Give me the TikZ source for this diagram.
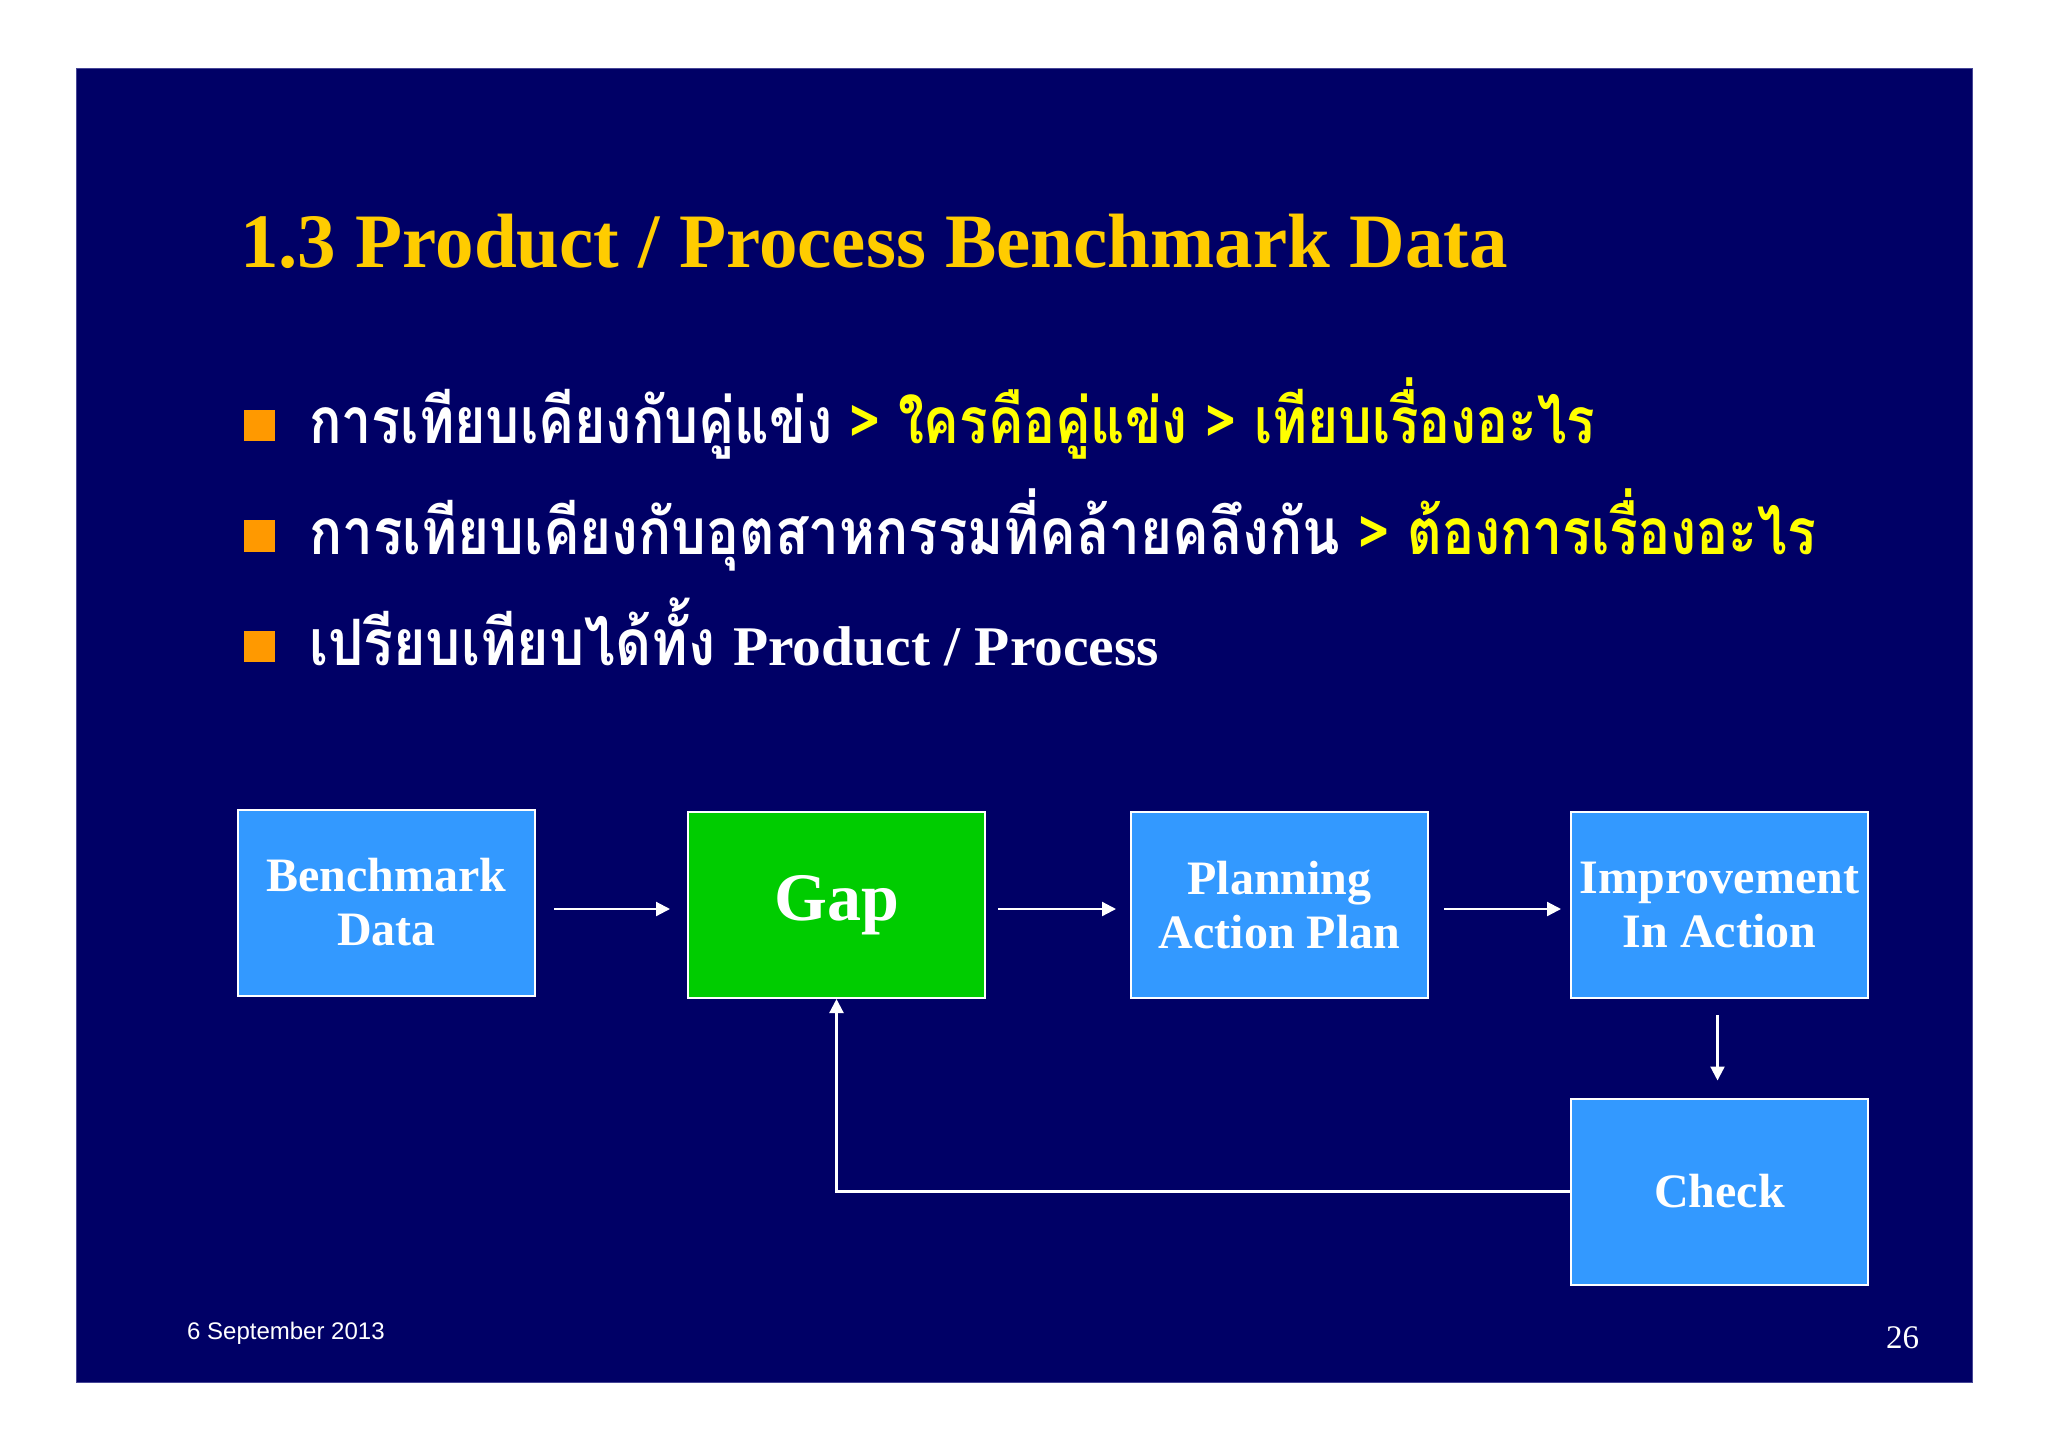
\documentclass[tikz,border=0pt]{standalone}
\usepackage{fontspec}
\usepackage{graphicx}
\setmainfont{Liberation Serif}
\newfontfamily\thaifont[Script=Thai]{Loma}
\newfontfamily\datefont{Liberation Sans}
\usetikzlibrary{arrows.meta}
\definecolor{slidebg}{RGB}{0,0,102}
\definecolor{slideedge}{RGB}{70,70,150}
\definecolor{boxblue}{RGB}{51,153,255}
\definecolor{boxgreen}{RGB}{0,204,0}
\definecolor{titlegold}{RGB}{255,204,0}
\definecolor{hiyellow}{RGB}{255,255,0}
\definecolor{bulletorange}{RGB}{255,153,0}
\newcommand\fitto[2]{\resizebox{#1}{\height}{#2}}
\tikzset{
  flowbox/.style={draw=white, line width=2pt, fill=boxblue, minimum width=297pt, minimum height=186pt,
    inner sep=0pt, align=center, text=white, font=\fontsize{48}{54}\selectfont\bfseries},
  arr/.style={draw=white, line width=2.2pt, -{Triangle[length=14pt,width=14pt]}},
  bulletsq/.style={fill=bulletorange, draw=none},
  thaitext/.style={anchor=base west, inner sep=0pt, font=\thaifont\bfseries\fontsize{64}{66}\selectfont},
}
\begin{document}
\begin{tikzpicture}[x=1pt,y=-1pt]
\useasboundingbox (0,0) rectangle (2048,1448);
\fill[white] (0,0) rectangle (2048,1448);
\filldraw[fill=slidebg, draw=slideedge, line width=1pt] (76,68) rectangle (1972,1382);

% title
\node[anchor=base west, inner sep=0pt, text=titlegold, font=\fontsize{77}{80}\selectfont\bfseries]
  (title) at (240,267) {1.3 Product / Process Benchmark Data};

% bullets
\fill[bulletsq] (244,410) rectangle (275,441);
\fill[bulletsq] (244,520) rectangle (275,552);
\fill[bulletsq] (244,631) rectangle (275,662);

\node[thaitext, text=white] (b1w) at (309,443) {\fitto{523pt}{การเทียบเคียงกับคู่แข่ง}};
\node[thaitext, text=hiyellow] (b1y) at (849,443) {\fitto{746pt}{> ใครคือคู่แข่ง > เทียบเรื่องอะไร}};
\node[thaitext, text=white] (b2w) at (309,554) {\fitto{1031pt}{การเทียบเคียงกับอุตสาหกรรมที่คล้ายคลึงกัน}};
\node[thaitext, text=hiyellow] (b2y) at (1358,554) {\fitto{458pt}{> ต้องการเรื่องอะไร}};
\node[thaitext, text=white] (b3w) at (309,665) {\fitto{406pt}{เปรียบเทียบได้ทั้ง}};
\node[anchor=base west, inner sep=0pt, text=white, font=\fontsize{56}{60}\selectfont\bfseries]
  (b3p) at (733,665) {\fitto{426pt}{Product / Process}};

% flow boxes
\node[flowbox] (bench) at (386.5,902.5) {Benchmark\\Data};
\node[flowbox, fill=boxgreen, font=\fontsize{68}{72}\selectfont\bfseries] (gap) at (836.5,905) {Gap};
\node[flowbox] (plan) at (1279.5,905) {Planning\\Action Plan};
\node[flowbox] (impr) at (1719.5,905) {Improvement\\In Action};
\node[flowbox] (check) at (1719.5,1191.5) {Check};

% connectors
\draw[arr, shorten <=18pt, shorten >=17pt] ([yshift=-6.5pt]bench.east) -- ([yshift=-4pt]gap.west);
\draw[arr, shorten <=12pt, shorten >=14pt] ([yshift=-4pt]gap.east) -- ([yshift=-4pt]plan.west);
\draw[arr, shorten <=15pt, shorten >=9pt] ([yshift=-4pt]plan.east) -- ([yshift=-4pt]impr.west);
\draw[arr, shorten <=16pt, shorten >=17pt] ([xshift=-2pt]impr.south) -- ([xshift=-2pt]check.north);
\draw[arr] (check.west) -| (gap.south);

% footer
\node[anchor=base west, inner sep=0pt, text=white, font=\datefont\fontsize{24}{26}\selectfont]
  (date) at (187,1339) {6 September 2013};
\node[anchor=base west, inner sep=0pt, text=white, font=\fontsize{33}{36}\selectfont]
  (pageno) at (1886,1348) {26};
\end{tikzpicture}
\end{document}
